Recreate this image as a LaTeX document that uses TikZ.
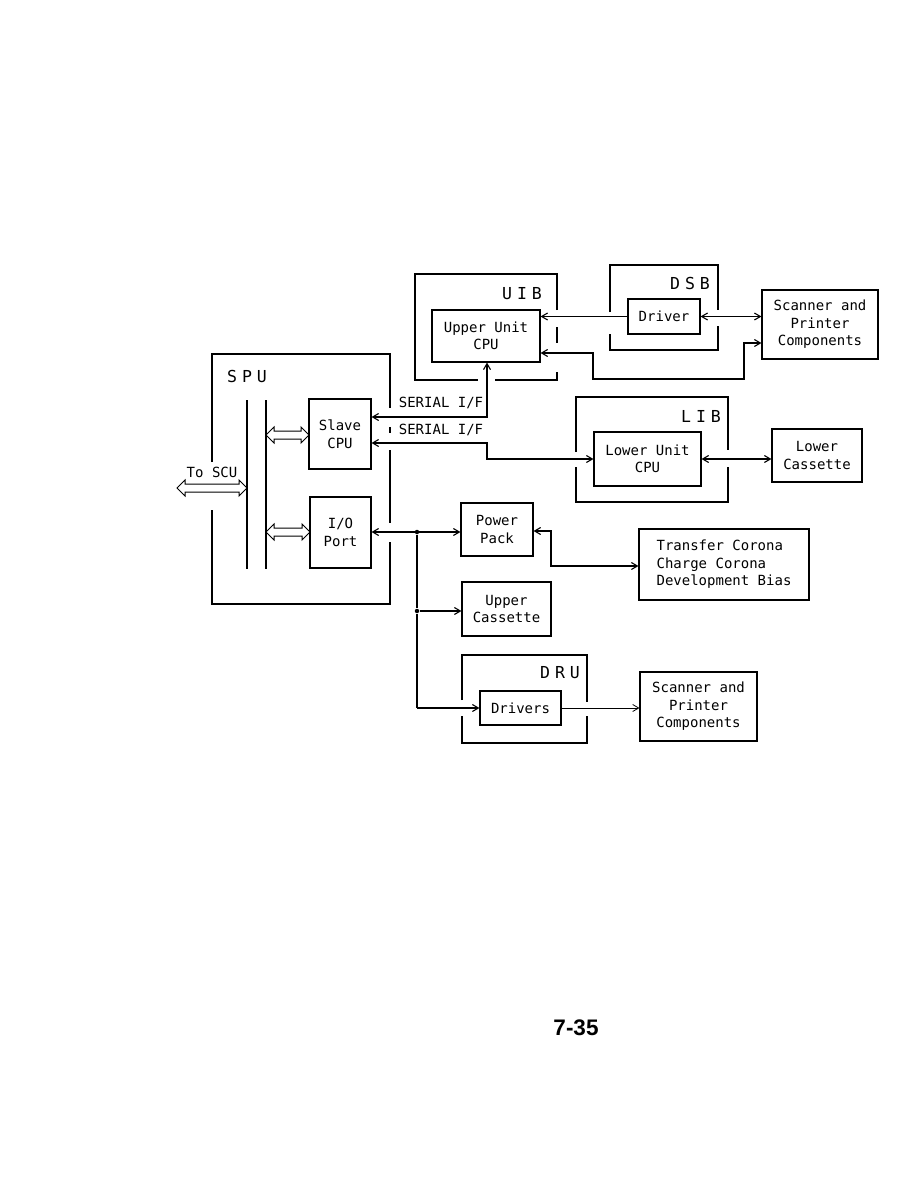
\documentclass[tikz,border=0pt]{standalone}
\usepackage{fontspec}
\newfontfamily\dmono{DejaVu Sans Mono}
\newfontfamily\pgnum{Liberation Sans}
\usetikzlibrary{arrows.meta}
\newcommand\busarrow[3]{\draw[line width=1pt, line join=miter] (#1,#3) -- ({#1+8},{#3-8}) -- ({#1+8},{#3-4}) -- ({#2-8},{#3-4}) -- ({#2-8},{#3-8}) -- (#2,#3) -- ({#2-8},{#3+8}) -- ({#2-8},{#3+4}) -- ({#1+8},{#3+4}) -- ({#1+8},{#3+8}) -- cycle;}
\begin{document}
\begin{tikzpicture}[x=1pt,y=-1pt, line width=1.1pt,
  >={Straight Barb[length=6pt,width=7pt]},
  box/.style={draw, inner sep=0pt, align=center, font=\dmono\fontsize{14}{17.5}\selectfont},
  lbl/.style={inner sep=0pt, font=\dmono\fontsize{16.5}{18}\selectfont},
  txt/.style={inner sep=0pt, font=\dmono\fontsize{14}{17.5}\selectfont},
  dot/.style={circle, fill, inner sep=0pt, minimum size=4.5pt}]
\useasboundingbox (0,0) rectangle (918,1188);

% ---------- SPU ----------
\draw (212,462) -- (212,354) -- (390,354) -- (390,408);
\draw (390,427) -- (390,433);
\draw (390,450) -- (390,523);
\draw (390,542) -- (390,604) -- (212,604) -- (212,510);
\node[lbl] (spul) at (247,376) {S\hspace{5pt}P\hspace{5pt}U};
\draw (247,400) -- (247,569);
\draw (266,400) -- (266,569);
\node[txt] (toscu) at (212,472) {To SCU};
\busarrow{177}{247}{488}
\busarrow{266}{309}{435}
\busarrow{266}{310}{532}
\node[box, minimum width=62pt, minimum height=70pt] (slave) at (340,434) {Slave\\CPU};
\node[box, minimum width=61pt, minimum height=71pt] (io) at (340.5,532.5) {I/O\\Port};

% ---------- UIB ----------
\draw (557,310) -- (557,274) -- (415,274) -- (415,380) -- (478,380);
\draw (495,380) -- (557,380) -- (557,372);
\draw (557,327) -- (557,343);
\node[lbl] (uibl) at (522,294) {U\hspace{5pt}I\hspace{5pt}B};
\node[box, minimum width=108pt, minimum height=52pt] (ucpu) at (486,336) {Upper Unit\\CPU};

% ---------- DSB ----------
\draw (610,312) -- (610,265) -- (718,265) -- (718,310);
\draw (718,326) -- (718,350) -- (610,350) -- (610,334);
\node[lbl] (dsbl) at (690,283) {D\hspace{5pt}S\hspace{5pt}B};
\node[box, minimum width=72pt, minimum height=35pt] (drv) at (664,316.5) {Driver};
\node[box, minimum width=116pt, minimum height=69pt] (scan1) at (820,324.5) {Scanner and\\Printer\\Components};

% ---------- LIB ----------
\draw (576,452) -- (576,397) -- (728,397) -- (728,450);
\draw (728,467) -- (728,502) -- (576,502) -- (576,467);
\node[lbl] (libl) at (701,416) {L\hspace{5pt}I\hspace{5pt}B};
\node[box, minimum width=107pt, minimum height=54pt] (lcpu) at (647.5,459) {Lower Unit\\CPU};
\node[box, minimum width=90pt, minimum height=53pt] (lcas) at (817,455.5) {Lower\\Cassette};

% ---------- Power pack etc ----------
\node[box, minimum width=72pt, minimum height=53pt] (pp) at (497,529.5) {Power\\Pack};
\node[box, minimum width=89pt, minimum height=54pt] (ucas) at (506.5,609) {Upper\\Cassette};
\node[box, align=left, minimum width=170pt, minimum height=71pt] (tc) at (724,564.5) {Transfer Corona\\Charge Corona\\Development Bias};

% ---------- DRU ----------
\draw (462,700) -- (462,655) -- (587,655) -- (587,702);
\draw (587,716) -- (587,743) -- (462,743) -- (462,716);
\node[lbl] (drul) at (560,673) {D\hspace{5pt}R\hspace{5pt}U};
\node[box, minimum width=81pt, minimum height=34pt] (drvs) at (520.5,708) {Drivers};
\node[box, minimum width=117pt, minimum height=69pt] (scan2) at (698.5,706.5) {Scanner and\\Printer\\Components};

% ---------- connectors ----------
\draw[->] (drv.west) -- (ucpu.east |- drv.west);
\draw[<->] (drv.east) -- (scan1.west |- drv.east);
\coordinate (k1) at (593,353);
\coordinate (k2) at (593,379);
\coordinate (k3) at (744,379);
\coordinate (k4) at (744,343);
\draw[<->] (ucpu.east |- k1) -- (k1) -- (k2) -- (k3) -- (k4) -- (scan1.west |- k4);

\coordinate (s1) at (487,417);
\draw[<->] (slave.east |- s1) -- (s1) -- (ucpu.south -| s1);
\coordinate (s2) at (487,443);
\coordinate (s3) at (487,459);
\draw[<->] (slave.east |- s2) -- (s2) -- (s3) -- (lcpu.west |- s3);
\node[txt] (ser1) at (441,403) {SERIAL I/F};
\node[txt] (ser2) at (441,430) {SERIAL I/F};

\draw[<->] (lcpu.east) -- (lcas.west |- lcpu.east);

\node[dot] (j1) at (417,532) {};
\node[dot] (j2) at (417,611) {};
\coordinate (j3) at (417,708);
\draw[<->] (io.east |- j1) -- (pp.west |- j1);
\draw (j1) -- (j2) -- (j3);
\draw[->] (j2) -- (ucas.west |- j2);
\draw[->] (j3) -- (drvs.west |- j3);

\coordinate (p1) at (551,531);
\coordinate (p2) at (551,566);
\draw[<->] (pp.east |- p1) -- (p1) -- (p2) -- (tc.west |- p2);

\draw[->, line width=0.8pt] (drvs.east) -- (scan2.west |- drvs.east);

% ---------- page number ----------
\node[inner sep=0pt, font=\pgnum\bfseries\fontsize{22.5}{27}\selectfont] (pg) at (576,1028) {7-35};
\end{tikzpicture}
\end{document}
